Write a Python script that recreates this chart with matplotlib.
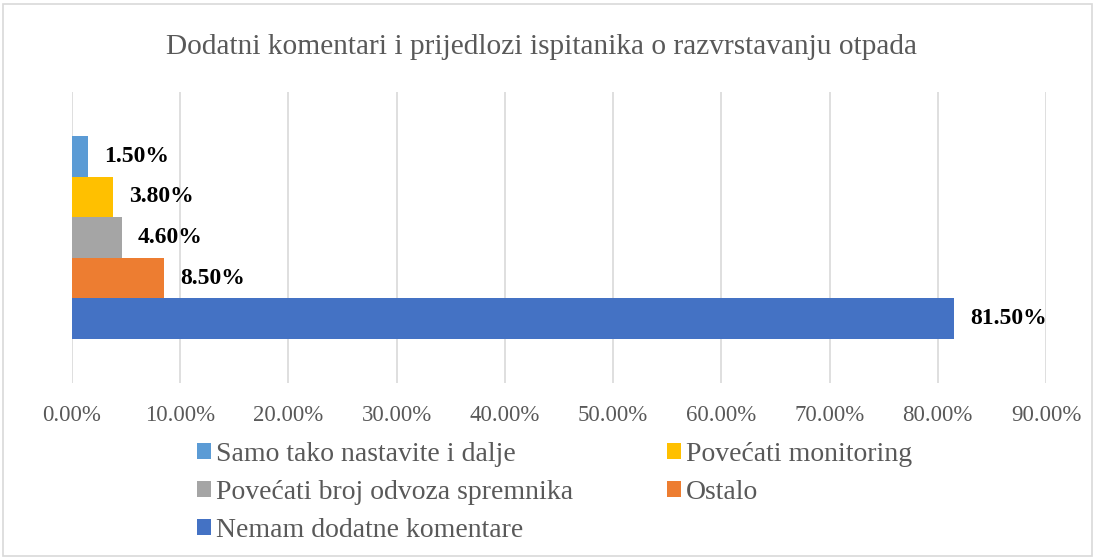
import numpy as np
import matplotlib
matplotlib.use("Agg")
import matplotlib.pyplot as plt
from matplotlib.patches import Rectangle

# series listed bottom -> top, as drawn
labels = ["Nemam dodatne komentare", "Ostalo", "Povećati broj odvoza spremnika",
          "Povećati monitoring", "Samo tako nastavite i dalje"]
values = [81.5, 8.5, 4.6, 3.8, 1.5]
colors = ["#4472C4", "#ED7D31", "#A5A5A5", "#FFC000", "#5B9BD5"]
xticks = [0, 10, 20, 30, 40, 50, 60, 70, 80, 90]

plt.rcParams["font.family"] = ["Liberation Serif", "DejaVu Serif"]
TXT = "#595959"

fig = plt.figure(figsize=(10.95, 5.6), dpi=100)
fig.patch.set_facecolor("white")
fig.patches.append(Rectangle((0.003, 0.008), 0.994, 0.984, transform=fig.transFigure,
                             fill=False, edgecolor="#D9D9D9", lw=1.2))
ax = fig.add_axes([72 / 1095, 177 / 560, (1046 - 72) / 1095, (383 - 92) / 560])

n = len(values)
group = 0.698
h = group / n
ys = -group / 2 + h / 2 + np.arange(n) * h
bars = []
for y, v, c, lab in zip(ys, values, colors, labels):
    b = ax.barh(y, v, height=h, color=c, label=lab, zorder=2)
    bars.append(b)
    ax.text(v + 1.5, y, f"{v:.2f}%", va="center", ha="left", fontsize=17,
            fontweight="bold", color="black", zorder=3)

ax.set_xlim(0, 90)
ax.set_ylim(-0.5, 0.5)
ax.set_xticks(xticks)
ax.set_xticklabels([f"{t:.2f}%" for t in xticks], fontsize=16.5, color=TXT)
ax.tick_params(axis="x", length=0, pad=16)
ax.set_yticks([])
ax.grid(axis="x", color="#D9D9D9", lw=1.2, zorder=0)
for s in ax.spines.values():
    s.set_visible(False)

fig.text(542 / 1095, 1 - 47 / 560, "Dodatni komentari i prijedlozi ispitanika o razvrstavanju otpada",
         ha="center", va="center", fontsize=21.2, color=TXT)

# legend: rows [Samo, Monitoring], [Broj, Ostalo], [Nemam]; matplotlib fills by column
order = [4, 2, 0, 3, 1]
leg = fig.legend([bars[i] for i in order], [labels[i] for i in order], ncol=2,
                 loc="upper left", bbox_to_anchor=(197 / 1095, 1 - 442 / 560),
                 frameon=False, fontsize=20, handlelength=0.5, handleheight=0.5,
                 handletextpad=0.2, columnspacing=3.35, labelspacing=0.46,
                 borderaxespad=0, borderpad=0)
for t in leg.get_texts():
    t.set_color(TXT)

fig.savefig("out.png", dpi=100)
